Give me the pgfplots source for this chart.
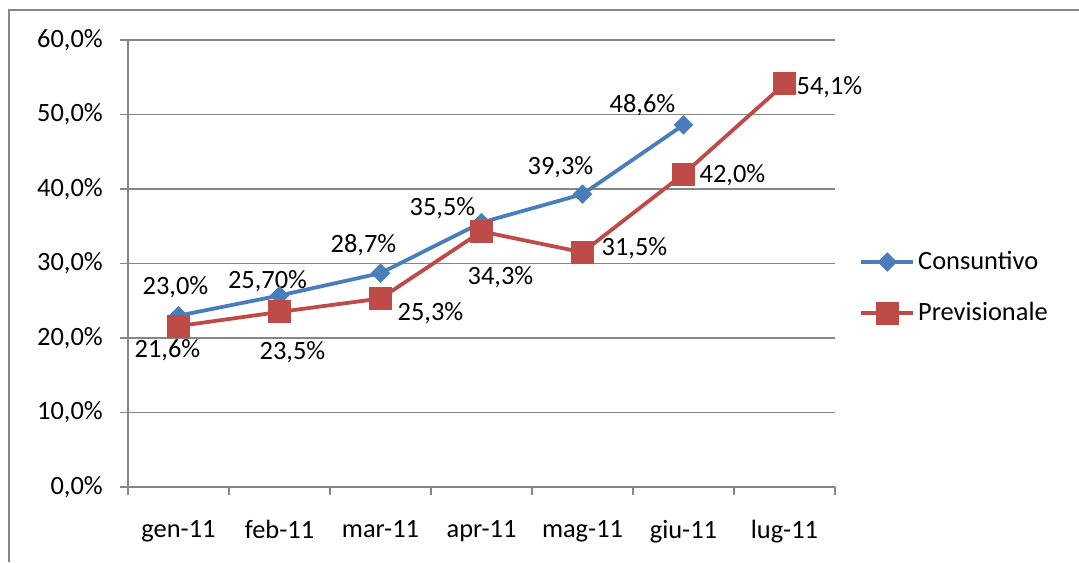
\documentclass[border=0pt]{standalone}
\usepackage{fontspec}
\setmainfont{Carlito}
\usepackage{pgfplots}
\pgfplotsset{compat=1.18}
\definecolor{cblue}{RGB}{74,126,187}
\definecolor{cred}{RGB}{190,75,72}
\definecolor{cgray}{RGB}{134,134,134}
\begin{document}
\fontsize{13.2}{15.8}\selectfont
\begin{tikzpicture}
\begin{axis}[
  at={(64pt,37.5pt)}, anchor=south west,
  scale only axis, width=353.5pt, height=223.5pt,
  xmin=-0.5, xmax=6.5, ymin=0, ymax=60,
  clip=false,
  axis x line*=bottom, axis y line*=left,
  xtick pos=bottom, ytick pos=left,
  axis line style={cgray, line width=0.8pt},
  ytick={0,10,...,60},
  yticklabels={{0,0\%},{10,0\%},{20,0\%},{30,0\%},{40,0\%},{50,0\%},{60,0\%}},
  yticklabel style={xshift=-4pt},
  ymajorgrids, grid style={cgray, line width=0.6pt},
  tick align=outside, major tick length=4pt,
  tick style={cgray, line width=0.8pt},
  xtick={-0.5,0.5,...,6.5}, xticklabels={},
  extra x ticks={0,1,2,3,4,5,6},
  extra x tick labels={gen-11,feb-11,mar-11,apr-11,mag-11,giu-11,lug-11},
  extra x tick style={major tick length=0pt, xtick pos=bottom,
     xticklabel style={yshift=-12pt}},
  tick label style={font=\fontsize{13.2}{15.8}\selectfont},
  legend style={at={(1,0.446)}, anchor=west, xshift=12pt, draw=none, fill=none,
    inner sep=0pt, row sep=11.5pt, font=\fontsize{13.2}{15.8}\selectfont,
    nodes={inner sep=1.5pt}},
  legend cell align=left,
  legend image code/.code={\draw[mark repeat=2,mark phase=2,#1] plot coordinates {(0pt,0pt)(13pt,0pt)(26pt,0pt)};},
]
\addplot[cblue, line width=1.9pt, mark=square*, mark size=2.5pt, mark options={solid, rotate=45}]
  coordinates {(0,23.0)(1,25.7)(2,28.7)(3,35.5)(4,39.3)(5,48.6)};
\addplot[cred, line width=1.9pt, mark=square*, mark size=4.8pt, mark options={solid}]
  coordinates {(0,21.6)(1,23.5)(2,25.3)(3,34.3)(4,31.5)(5,42.0)(6,54.1)};
\legend{Consuntivo,Previsionale}
% Consuntivo labels
\node[xshift=-1.5pt,yshift=14pt] at (axis cs:0,23.0) {23,0\%};
\node[xshift=-6pt,yshift=7pt] at (axis cs:1,25.7) {25,70\%};
\node[xshift=-8.5pt,yshift=14pt] at (axis cs:2,28.7) {28,7\%};
\node[xshift=-19.5pt,yshift=7pt] at (axis cs:3,35.5) {35,5\%};
\node[xshift=-11pt,yshift=13.5pt] at (axis cs:4,39.3) {39,3\%};
\node[xshift=-20.5pt,yshift=10pt] at (axis cs:5,48.6) {48,6\%};
% Previsionale labels
\node[xshift=-5.5pt,yshift=-12pt] at (axis cs:0,21.6) {21,6\%};
\node[xshift=6.5pt,yshift=-20pt] at (axis cs:1,23.5) {23,5\%};
\node[xshift=25pt,yshift=-7.5pt] at (axis cs:2,25.3) {25,3\%};
\node[xshift=9.5pt,yshift=-23pt] at (axis cs:3,34.3) {34,3\%};
\node[xshift=26pt,yshift=2pt] at (axis cs:4,31.5) {31,5\%};
\node[xshift=24.5pt,yshift=-0.5pt] at (axis cs:5,42.0) {42,0\%};
\node[xshift=22.5pt,yshift=-1.5pt] at (axis cs:6,54.1) {54,1\%};
\end{axis}
\draw[cgray, line width=1pt] (4.5pt,0pt) -- (4.5pt,276pt) -- (539.5pt,276pt);
\pgfresetboundingbox
\path (0,0) rectangle (539.5pt,281pt);
\end{tikzpicture}
\end{document}
